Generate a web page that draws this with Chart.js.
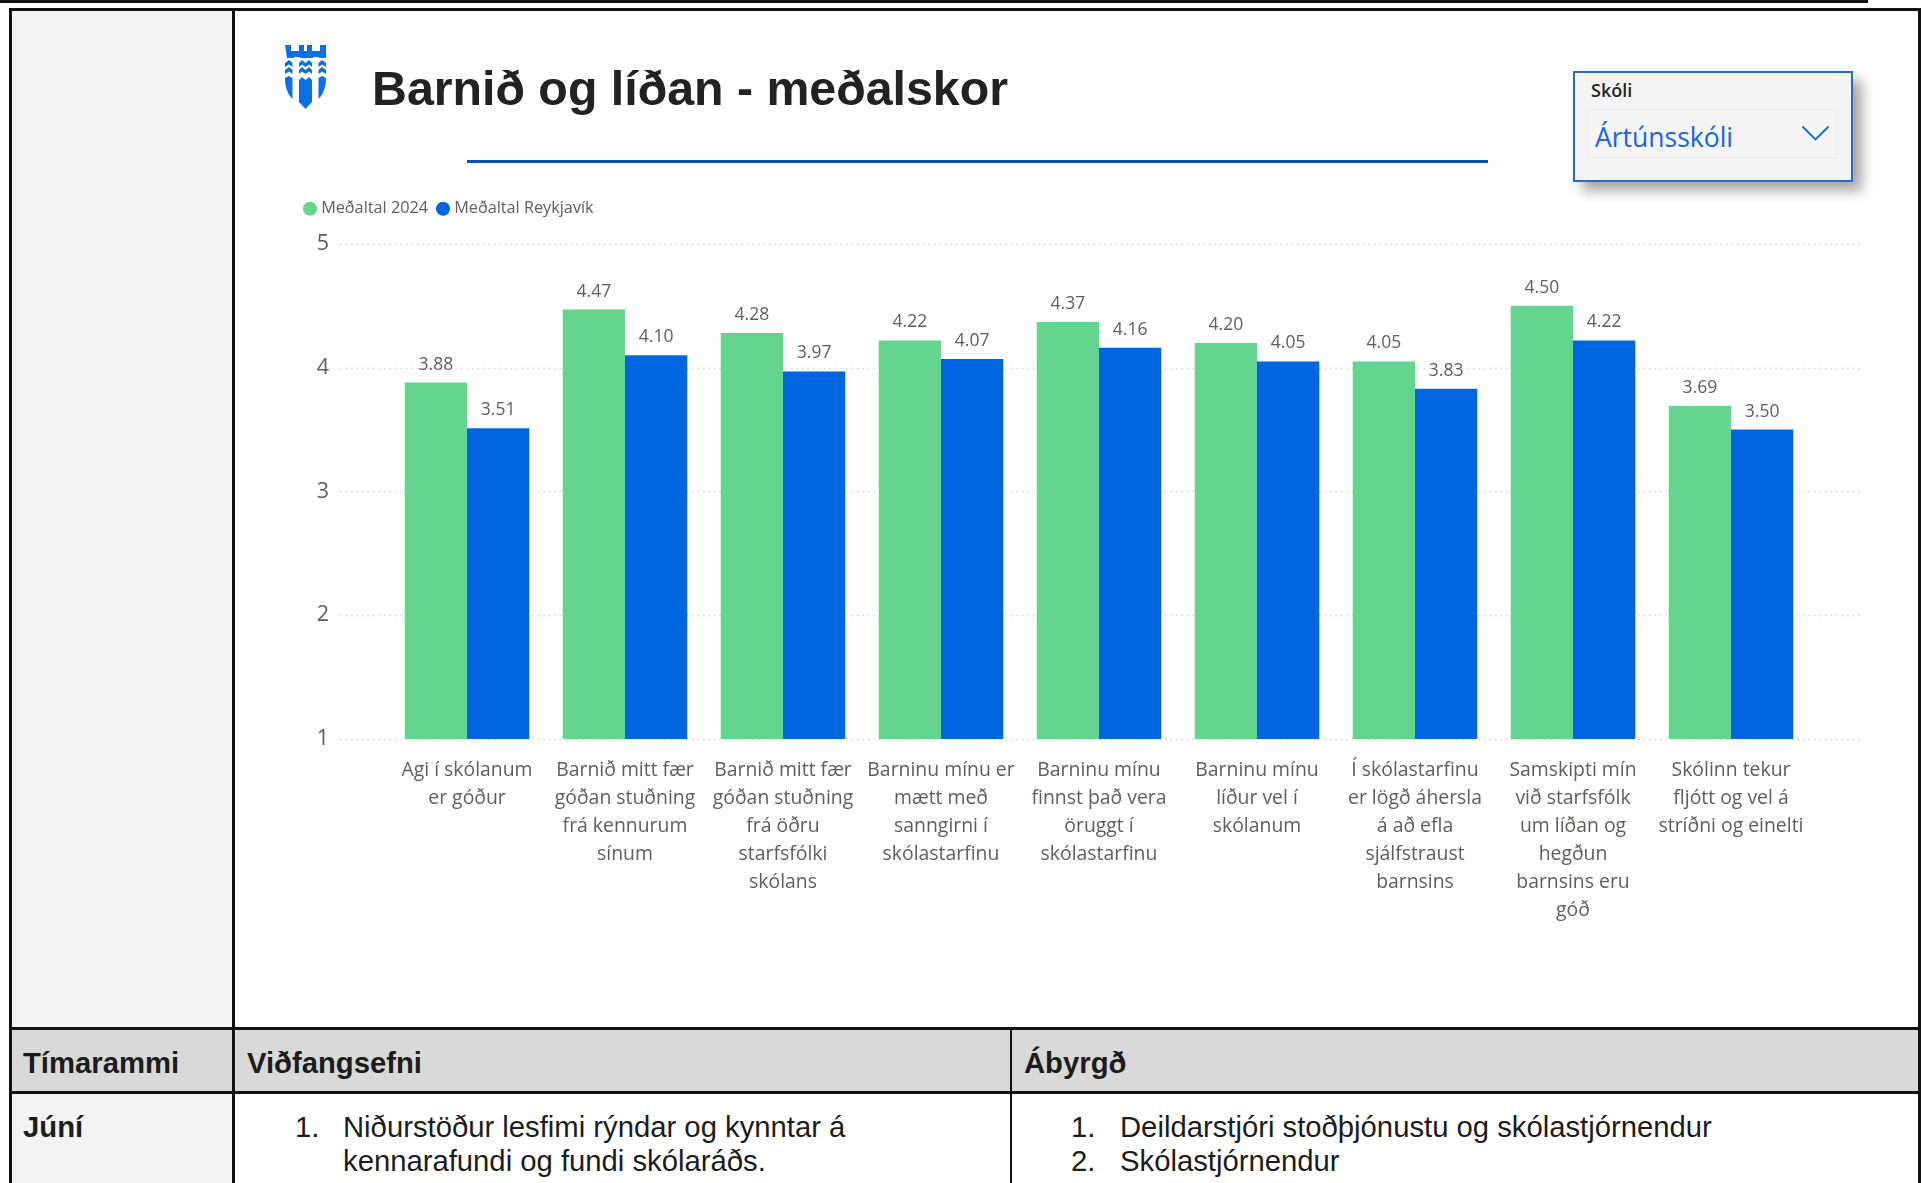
<!DOCTYPE html>
<html><head><meta charset="utf-8">
<script src="https://cdn.jsdelivr.net/npm/chart.js@4"></script>
<style>
html,body{margin:0;padding:0;background:#fff;overflow:hidden}
#page{position:relative;width:1921px;height:1183px;overflow:hidden;font-family:"Liberation Sans",Arial,sans-serif;color:#1c1c1c}
.a{position:absolute}
.k{background:#111}
.t{position:absolute;font-size:29.25px;line-height:34px;white-space:nowrap}
.b{font-weight:bold}
#chartbox{position:absolute;left:295px;top:172px;width:1579px;height:778px}
</style></head><body>
<div id="page">
<div class="a k" style="left:0;top:0;width:1868px;height:3px"></div>
<div class="a" style="left:12px;top:11px;width:221px;height:1172px;background:#f3f3f3"></div>
<div class="a" style="left:12px;top:1030px;width:1909px;height:62px;background:#d9d9d9"></div>
<div class="a k" style="left:9px;top:8px;width:1912px;height:3px"></div>
<div class="a k" style="left:9px;top:8px;width:3px;height:1175px"></div>
<div class="a k" style="left:232px;top:8px;width:3px;height:1175px"></div>
<div class="a k" style="left:1918px;top:8px;width:3px;height:1175px"></div>
<div class="a k" style="left:9px;top:1027px;width:1912px;height:3px"></div>
<div class="a k" style="left:9px;top:1091px;width:1912px;height:3px"></div>
<div class="a k" style="left:1010px;top:1028px;width:2px;height:155px"></div>

<svg class="a" style="left:285px;top:45px" width="41" height="64" viewBox="0 0 41 64">
<g fill="#0a70e4">
<path d="M0 0h6v6h8v-6h5v6h3v-6h5v6h8v-6h6v13h-7v-1h-6v1h-13v-1h-6v1h-7z"/>
<path d="M0 18l4-3 3.500 3v4l-3.500-2.500-4 2.500zM14 18l3-3 3.500 3 3.500-3 3 3v4l-3-2.500-3.500 2.500-3.500-2.500-3 2.500zM33.500 18l3.500-3 4 3v4l-4-2.500-3.500 2.500z"/>
<path d="M0 25l4-3 3.500 3v4l-3.500-2.500-4 2.500zM14 25l3-3 3.500 3 3.500-3 3 3v4l-3-2.500-3.500 2.500-3.500-2.500-3 2.500zM33.500 25l3.500-3 4 3v4l-4-2.500-3.500 2.500z"/>
<path d="M0 33l4-2 3.500 2v21c-5-5-7.500-12-7.500-21zM33.500 33l3.500-2 4 2c0 9-2.500 16-7.500 21zM14 35l3-3 3.500 3 3.500-3 3 3v22l-6.500 7-6.500-7z"/>
</g></svg>

<div class="t b" id="title" style="left:372px;top:60px;font-size:48.3px;line-height:56px;color:#222">Barnið og líðan - meðalskor</div>
<div class="a" style="left:467px;top:160px;width:1021px;height:3px;background:#0d50a8"></div>

<div class="a" style="left:1573px;top:71px;width:276px;height:107px;background:#f4f4f4;border:2px solid #2a6cc0;box-shadow:9px 9px 12px rgba(0,0,0,.35)"></div>
<div class="a" style="left:1587px;top:109px;width:248px;height:47px;border:1px solid #ececec"></div>
<div class="a" style="left:1591px;top:78px;font:600 18px 'Open Sans',sans-serif;line-height:24px;color:#252423">Skóli</div>
<div class="a" style="left:1595px;top:117px;font:26.5px 'Open Sans',sans-serif;line-height:40px;color:#1a66e0">Ártúnsskóli</div>
<svg class="a" style="left:1801px;top:125px" width="30" height="17"><path d="M1.500 1.500L14.500 14.500L27.500 1.500" fill="none" stroke="#1a66e0" stroke-width="1.800"/></svg>

<div id="chartbox"><canvas id="c"></canvas></div>

<div class="t b" style="left:23px;top:1046px">Tímarammi</div>
<div class="t b" style="left:247px;top:1046px">Viðfangsefni</div>
<div class="t b" style="left:1024px;top:1046px">Ábyrgð</div>
<div class="t b" style="left:23px;top:1110px">Júní</div>
<div class="t" style="left:295px;top:1110px">1.</div>
<div class="t" style="left:343px;top:1110px">Niðurstöður lesfimi rýndar og kynntar á<br>kennarafundi og fundi skólaráðs.</div>
<div class="t" style="left:1071px;top:1110px">1.</div>
<div class="t" style="left:1071px;top:1144px">2.</div>
<div class="t" style="left:1120px;top:1110px">Deildarstjóri stoðþjónustu og skólastjórnendur<br>Skólastjórnendur</div>
</div>
<script>
const categories = [
  ["Agi í skólanum","er góður"],
  ["Barnið mitt fær","góðan stuðning","frá kennurum","sínum"],
  ["Barnið mitt fær","góðan stuðning","frá öðru","starfsfólki","skólans"],
  ["Barninu mínu er","mætt með","sanngirni í","skólastarfinu"],
  ["Barninu mínu","finnst það vera","öruggt í","skólastarfinu"],
  ["Barninu mínu","líður vel í","skólanum"],
  ["Í skólastarfinu","er lögð áhersla","á að efla","sjálfstraust","barnsins"],
  ["Samskipti mín","við starfsfólk","um líðan og","hegðun","barnsins eru","góð"],
  ["Skólinn tekur","fljótt og vel á","stríðni og einelti"]
];
const medaltal2024 = [3.88,4.47,4.28,4.22,4.37,4.20,4.05,4.50,3.69];
const medaltalReykjavik = [3.51,4.10,3.97,4.07,4.16,4.05,3.83,4.22,3.50];
const seriesNames = ["Meðaltal 2024","Meðaltal Reykjavík"];
const yTicks = [1,2,3,4,5];
const GREEN="#64d48e", BLUE="#0066e0", TXT="#605e5c", FONT="'Open Sans'";

const legendGap = {
  id:"legendGap",
  beforeInit(ch){
    const fit=ch.legend.fit;
    ch.legend.fit=function(){fit.call(this);this.height+=17;};
  }
};
const extendedGrid = {
  id:"extendedGrid",
  beforeDatasetsDraw(ch){
    const {ctx,scales:{y},chartArea:a}=ch;
    ctx.save();
    ctx.strokeStyle="#d4d4d4";ctx.lineWidth=1.5;ctx.setLineDash([1.5,4]);
    yTicks.forEach(v=>{const p=Math.round(y.getPixelForValue(v))+.5;
      ctx.beginPath();ctx.moveTo(a.left-48,p);ctx.lineTo(a.right+50,p);ctx.stroke();});
    ctx.restore();
  }
};
const barLabels = {
  id:"barLabels",
  afterDatasetsDraw(ch){
    const {ctx}=ch;
    ctx.save();
    ctx.font="17.5px "+FONT;ctx.fillStyle=TXT;ctx.textAlign="center";ctx.textBaseline="alphabetic";
    ch.data.datasets.forEach((d,i)=>{
      ch.getDatasetMeta(i).data.forEach((el,j)=>{
        ctx.fillText(d.data[j].toFixed(2),el.x,el.y-13);
      });
    });
    ctx.restore();
  }
};
new Chart(document.getElementById("c"),{
  type:"bar",
  data:{labels:categories,datasets:[
    {label:seriesNames[0],data:medaltal2024,backgroundColor:GREEN,borderWidth:0},
    {label:seriesNames[1],data:medaltalReykjavik,backgroundColor:BLUE,borderWidth:0}
  ]},
  options:{
    responsive:true,maintainAspectRatio:false,animation:false,
    layout:{padding:{left:0,right:64,top:0,bottom:0}},
    datasets:{bar:{categoryPercentage:.788,barPercentage:1}},
    plugins:{
      tooltip:{enabled:false},
      legend:{position:"top",align:"start",
        labels:{usePointStyle:true,pointStyle:"circle",boxWidth:6,boxHeight:10,padding:12,color:TXT,font:{family:FONT,size:16.25}}}
    },
    scales:{
      x:{grid:{display:false},border:{display:false},
        ticks:{color:TXT,font:{family:FONT,size:19.4,lineHeight:28/19.4},autoSkip:false,maxRotation:0,minRotation:0,padding:9},
        afterFit(s){s.height=211;}},
      y:{min:1,max:5,grid:{display:false,drawTicks:false},border:{display:false},
        afterBuildTicks(s){s.ticks=yTicks.map(v=>({value:v}));},
        ticks:{color:TXT,font:{family:FONT,size:21.5},padding:59},
        afterFit(s){s.width=93;}}
    }
  },
  plugins:[legendGap,extendedGrid,barLabels]
});
</script>
</body></html>
